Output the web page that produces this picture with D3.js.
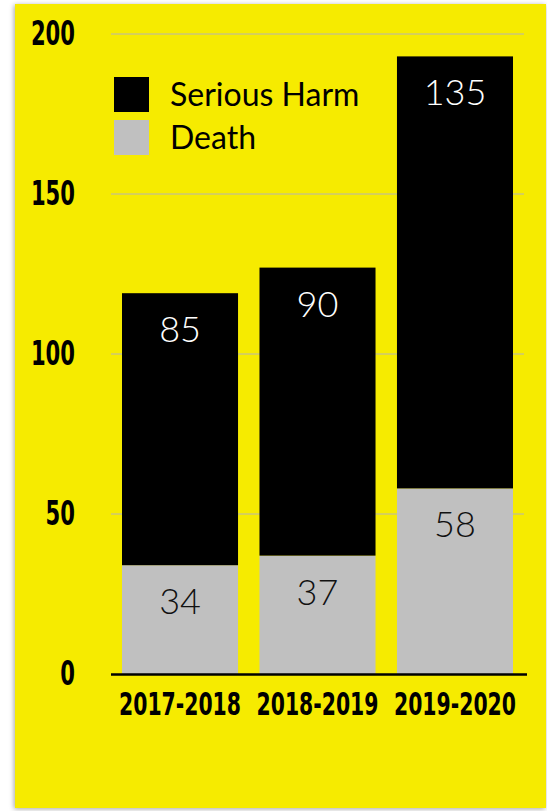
<!DOCTYPE html>
<html>
<head>
<meta charset="utf-8">
<script src="https://cdn.jsdelivr.net/npm/d3@7"></script>
<style>
  html, body { margin: 0; padding: 0; background: #ffffff; }
  svg { display: block; }
</style>
</head>
<body>
<svg id="chart" width="547" height="811"></svg>
<script>
// Reported incidents per year, split by outcome
const years = ["2017-2018", "2018-2019", "2019-2020"];
const death = [34, 37, 58];
const seriousHarm = [85, 90, 135];
const yTicks = [0, 50, 100, 150, 200];
const seriesNames = ["Serious Harm", "Death"];
const seriesColors = ["#000000", "#c0c0c0"];
const labelColors = ["#ffffff", "#111111"];

const svg = d3.select("#chart");

// Yellow card with a soft shadow
const defs = svg.append("defs");
const f = defs.append("filter").attr("id", "shadow")
  .attr("x", "-5%").attr("y", "-5%").attr("width", "110%").attr("height", "110%");
f.append("feDropShadow").attr("dx", -1).attr("dy", 1)
  .attr("stdDeviation", 2.5).attr("flood-color", "#000").attr("flood-opacity", 0.35);

svg.append("rect")
  .attr("x", 15).attr("y", 4).attr("width", 531).attr("height", 804)
  .attr("fill", "#f6eb00").attr("filter", "url(#shadow)");

const plotLeft = 111, plotRight = 524, plotTop = 34, plotBottom = 674;

const x = d3.scaleBand().domain(years).range([plotLeft, plotRight])
  .paddingInner(0.156).paddingOuter(0.08);
const y = d3.scaleLinear().domain([0, 200]).range([plotBottom, plotTop]);

// Squeeze a text horizontally to a target width, keeping its anchor point fixed
function condense(sel, width) {
  sel.each(function (d) {
    const t = d3.select(this);
    const ax = +t.attr("x");
    const natural = this.getComputedTextLength();
    const w = typeof width === "function" ? width(d) : width;
    const k = natural > 0 ? w / natural : 1;
    t.attr("transform", `translate(${ax},0) scale(${k},1) translate(${-ax},0)`);
  });
}

// Horizontal gridlines
svg.append("g").selectAll("line")
  .data(yTicks.filter(t => t > 0))
  .join("line")
  .attr("x1", plotLeft).attr("x2", plotRight)
  .attr("y1", d => y(d)).attr("y2", d => y(d))
  .attr("stroke", "#b4b4b4").attr("stroke-width", 1);

// Stack: death at the bottom, serious harm above
const rows = years.map((yr, i) => ({ year: yr, "Death": death[i], "Serious Harm": seriousHarm[i] }));
const stack = d3.stack().keys(["Death", "Serious Harm"])(rows);

const layers = svg.append("g").selectAll("g")
  .data(stack)
  .join("g")
  .attr("fill", d => seriesColors[seriesNames.indexOf(d.key)]);

layers.selectAll("rect")
  .data(d => d)
  .join("rect")
  .attr("x", d => x(d.data.year))
  .attr("width", x.bandwidth())
  .attr("y", d => y(d[1]))
  .attr("height", d => y(d[0]) - y(d[1]));

// Value labels near the top of each segment
stack.forEach(layer => {
  const idx = seriesNames.indexOf(layer.key);
  svg.append("g").selectAll("text")
    .data(layer)
    .join("text")
    .attr("x", d => x(d.data.year) + x.bandwidth() / 2)
    .attr("y", d => y(d[1]) + 49)
    .attr("text-anchor", "middle")
    .attr("font-family", "Lato, 'Open Sans', sans-serif")
    .attr("font-weight", 300)
    .attr("font-size", 36)
    .attr("fill", labelColors[idx])
    .text(d => d[1] - d[0]);
});

// Baseline
svg.append("line")
  .attr("x1", plotLeft).attr("x2", 527)
  .attr("y1", y(0) + 0.5).attr("y2", y(0) + 0.5)
  .attr("stroke", "#000").attr("stroke-width", 2.5);

// Y-axis tick labels
const boldFont = "'DejaVu Sans Condensed', 'DejaVu Sans', sans-serif";
svg.append("g").selectAll("text")
  .data(yTicks)
  .join("text")
  .attr("x", 75)
  .attr("y", d => y(d) + 11)
  .attr("text-anchor", "end")
  .attr("font-family", boldFont)
  .attr("font-weight", 700)
  .attr("font-size", 34)
  .attr("fill", "#000")
  .text(d => d)
  .call(condense, d => String(d).length * 14.7);

// X-axis category labels
svg.append("g").selectAll("text")
  .data(years)
  .join("text")
  .attr("x", d => x(d) + x.bandwidth() / 2)
  .attr("y", 715)
  .attr("text-anchor", "middle")
  .attr("font-family", boldFont)
  .attr("font-weight", 700)
  .attr("font-size", 31.5)
  .attr("fill", "#000")
  .text(d => d)
  .call(condense, 122);

// Legend
const legend = svg.append("g").selectAll("g")
  .data(seriesNames)
  .join("g")
  .attr("transform", (d, i) => `translate(114, ${77 + i * 43})`);

legend.append("rect")
  .attr("width", 35).attr("height", 35)
  .attr("fill", (d, i) => seriesColors[i]);

legend.append("text")
  .attr("x", 56).attr("y", 29)
  .attr("font-family", "Lato, 'Open Sans', sans-serif")
  .attr("font-weight", 400)
  .attr("font-size", 32)
  .attr("fill", "#000")
  .text(d => d);
</script>
</body>
</html>
